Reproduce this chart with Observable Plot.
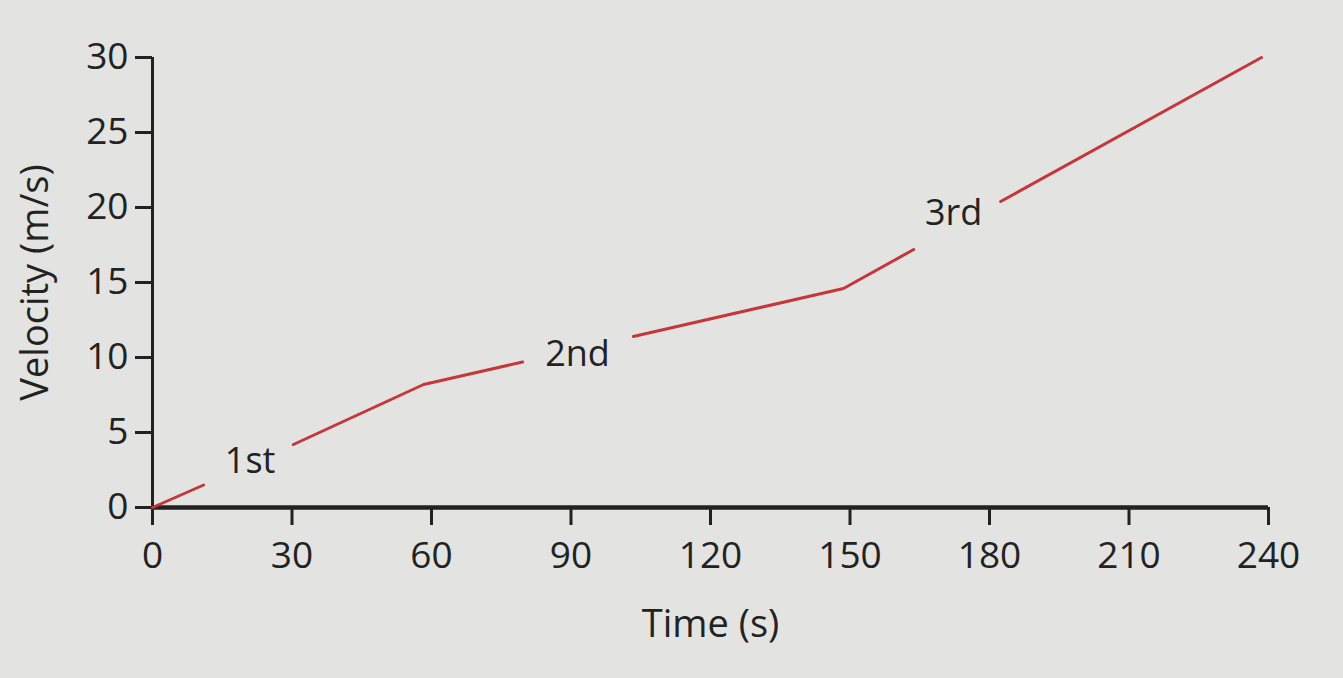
<!DOCTYPE html>
<html>
<head>
<meta charset="utf-8">
<script src="https://cdn.jsdelivr.net/npm/d3@7"></script>
<script src="https://cdn.jsdelivr.net/npm/@observablehq/plot@0.6"></script>
<style>
  html, body { margin: 0; padding: 0; background: #e3e3e1; }
  #chart svg { display: block; }
</style>
</head>
<body>
<div id="chart"></div>
<script>
// Data
const time     = [0, 11, 30.3, 58.3, 79.6, 103.4, 148.6, 163.7, 182.4, 238.5];
const velocity = [0, 1.5, 4.2, 8.2, 9.7, 11.4, 14.6, 17.2, 20.4, 30];
const segment  = [1, 1, 2, 2, 2, 3, 3, 3, 4, 4];

const gearLabels = ["1st", "2nd", "3rd"];
const gearTime   = [21, 91.4, 172.3];
const gearVel    = [3.1, 10.2, 19.6];

const xTicks = [0, 30, 60, 90, 120, 150, 180, 210, 240];
const yTicks = [0, 5, 10, 15, 20, 25, 30];

const points = time.map((t, i) => ({t, v: velocity[i], seg: segment[i]}));
const labels = gearLabels.map((g, i) => ({g, t: gearTime[i], v: gearVel[i]}));

const ink = "#222";
const font = "'Open Sans', 'Noto Sans', sans-serif";

const chart = Plot.plot({
  width: 1343,
  height: 678,
  marginLeft: 152,
  marginRight: 75,
  marginTop: 57,
  marginBottom: 171,
  style: {background: "#e3e3e1", fontFamily: font, color: ink},
  x: {domain: [0, 240]},
  y: {domain: [0, 30]},
  marks: [
    Plot.axisX({ticks: xTicks, tickSize: 18, tickPadding: 16, fontSize: 37, strokeWidth: 3, stroke: ink, fill: ink, label: null}),
    Plot.axisY({ticks: yTicks, tickSize: 17, tickPadding: 7, fontSize: 37, strokeWidth: 3, stroke: ink, fill: ink, label: null}),
    Plot.ruleY([0], {x1: 0, x2: 240, stroke: ink, strokeWidth: 4.5}),
    Plot.ruleX([0], {y1: 0, y2: 30, stroke: ink, strokeWidth: 3}),
    Plot.line(points, {x: "t", y: "v", z: "seg", stroke: "#c4373a", strokeWidth: 3}),
    Plot.text(labels, {x: "t", y: "v", text: "g", fontSize: 36, fill: ink}),
    Plot.text(["Time (s)"], {frameAnchor: "bottom", dy: 129, fontSize: 38, fill: ink}),
    Plot.text(["Velocity (m/s)"], {frameAnchor: "left", textAnchor: "middle", dx: -117, rotate: -90, fontSize: 38, fill: ink})
  ]
});
document.getElementById("chart").appendChild(chart);
</script>
</body>
</html>
